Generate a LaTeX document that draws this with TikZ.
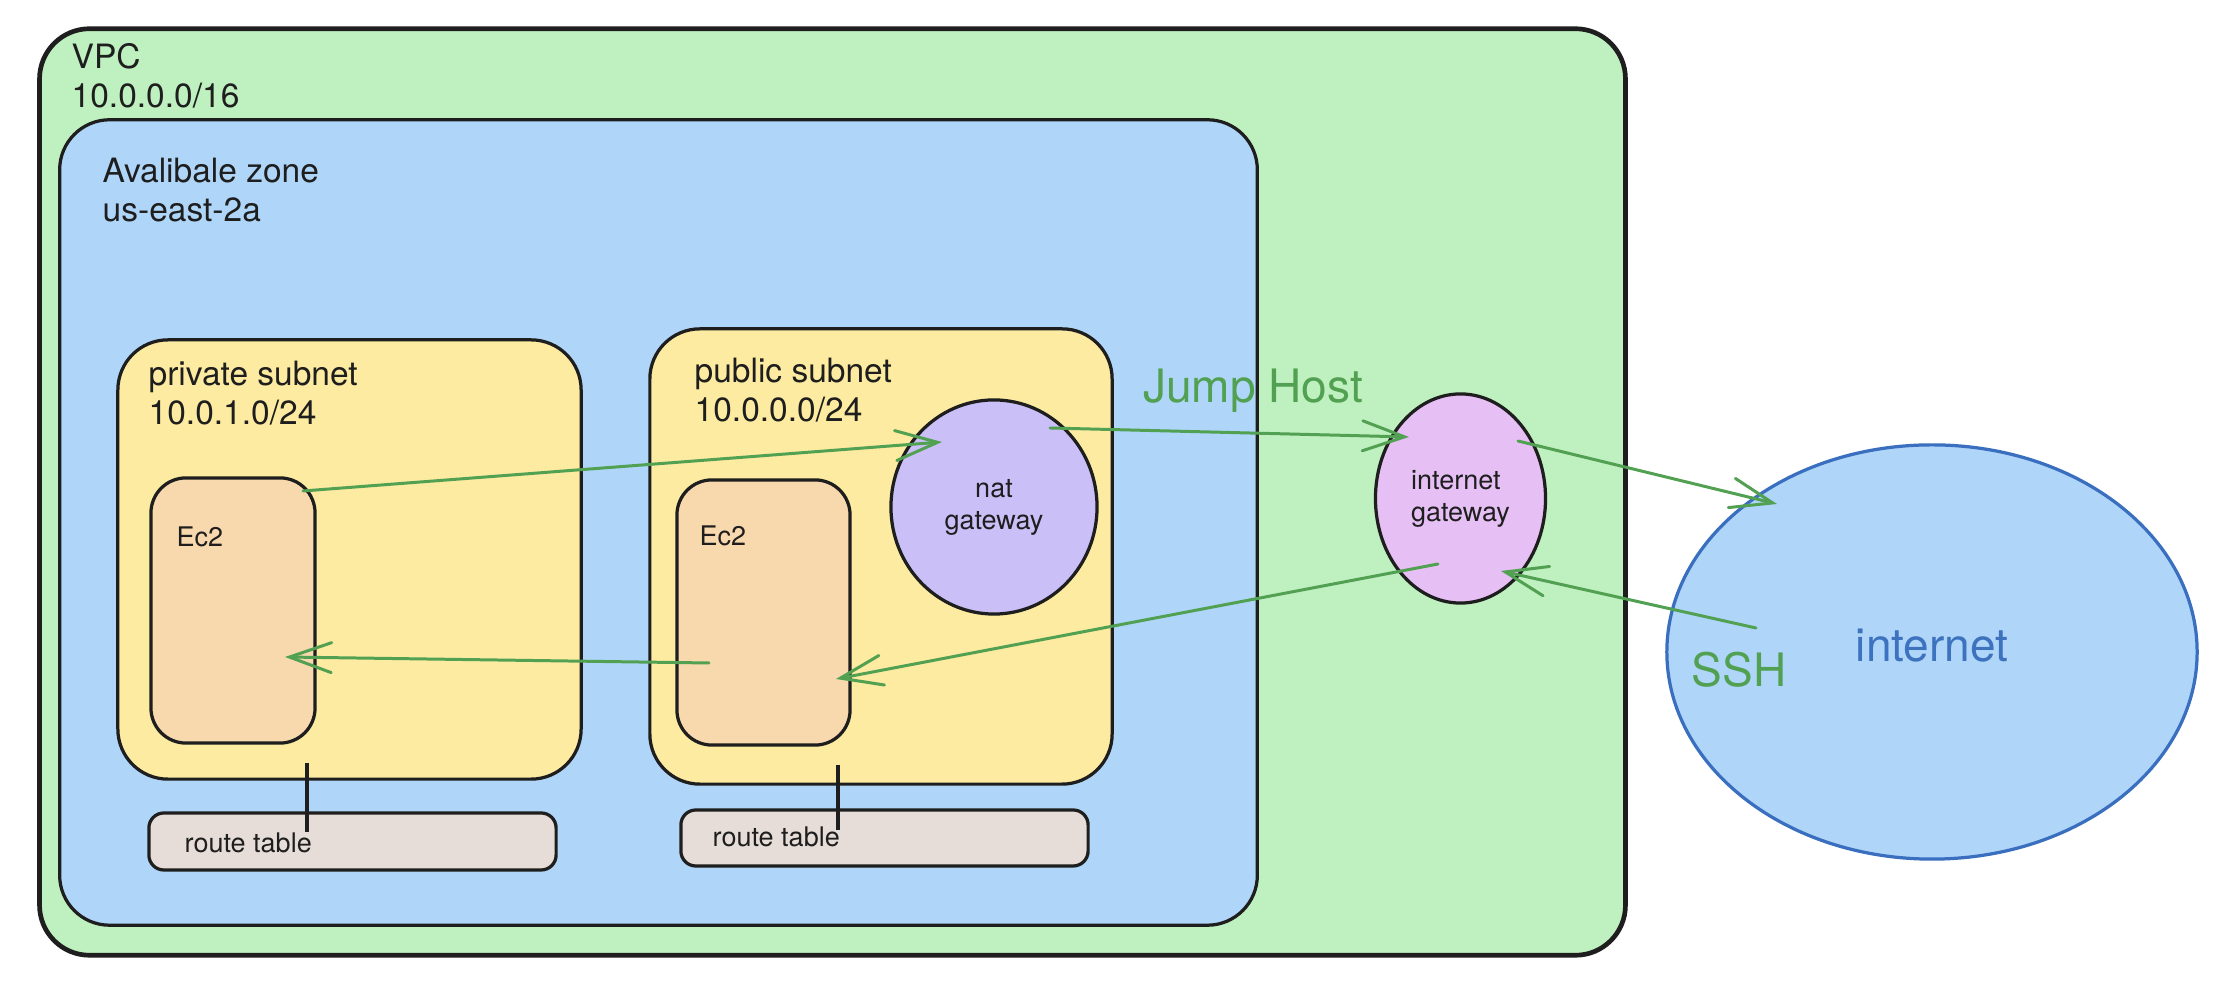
\documentclass[tikz,border=0pt]{standalone}
\usepackage{fontspec}
\setmainfont{TeX Gyre Heros}
\usetikzlibrary{arrows.meta,shapes.geometric,calc}

\definecolor{vpcgreen}{HTML}{BFF0C0}
\definecolor{zoneblue}{HTML}{AFD6F9}
\definecolor{subyellow}{HTML}{FCEBA0}
\definecolor{ecpeach}{HTML}{F8D8AD}
\definecolor{natpurple}{HTML}{CBBFF8}
\definecolor{igwpink}{HTML}{E6C0F5}
\definecolor{rtgray}{HTML}{E6DDD8}
\definecolor{inetstroke}{HTML}{3A6FBF}
\definecolor{inettext}{HTML}{3D72BE}
\definecolor{arrowgreen}{HTML}{52A052}
\definecolor{ink}{HTML}{1E1E1E}

\begin{document}
\begin{tikzpicture}[x=0.01cm,y=-0.01cm,
  box/.style={draw=ink, line width=0.92pt, rounded corners=0.5cm, inner sep=0pt},
  bigtext/.style={font=\fontsize{9.53pt}{11pt}\selectfont, text=ink, inner sep=0pt, anchor=base west},
  smalltext/.style={font=\fontsize{7.68pt}{9.1pt}\selectfont, text=ink, inner sep=0pt, anchor=base west},
  gw/.style={draw=ink, line width=0.92pt, ellipse, inner sep=0pt, text=ink, font=\fontsize{7.68pt}{9.1pt}\selectfont},
  conn/.style={draw=arrowgreen, line width=0.85pt, line cap=round, -{Straight Barb[length=0.42cm,width=0.30cm,line cap=round]}},
  rtline/.style={draw=ink, line width=0.92pt},
  greentext/.style={font=\fontsize{13.09pt}{15pt}\selectfont, text=arrowgreen, inner sep=0pt}]

\useasboundingbox[fill=white] (0,0) rectangle (2232,986);

% containers
\node[box, line width=1.33pt, fill=vpcgreen, minimum width=15.85cm, minimum height=9.26cm] (vpc) at (832.5,492) {};
\node[box, fill=zoneblue, minimum width=11.97cm, minimum height=8.05cm] (zone) at (658.5,522.5) {};
\node[box, fill=subyellow, minimum width=4.63cm, minimum height=4.39cm] (priv) at (349.5,559.5) {};
\node[box, fill=subyellow, minimum width=4.62cm, minimum height=4.55cm] (pub) at (881,556.5) {};
\node[box, rounded corners=0.35cm, fill=ecpeach, minimum width=1.64cm, minimum height=2.65cm] (ec2a) at (233,610.5) {};
\node[box, rounded corners=0.35cm, fill=ecpeach, minimum width=1.73cm, minimum height=2.65cm] (ec2b) at (763.5,612.5) {};
\node[box, rounded corners=0.15cm, fill=rtgray, minimum width=4.07cm, minimum height=0.57cm] (rta) at (352.5,841.5) {};
\node[box, rounded corners=0.15cm, fill=rtgray, minimum width=4.07cm, minimum height=0.56cm] (rtb) at (884.5,838) {};
\node[gw, fill=natpurple, minimum width=2.06cm, minimum height=2.14cm, align=center] (nat) at (994,507) {nat\\gateway};
\node[gw, fill=igwpink, minimum width=1.70cm, minimum height=2.09cm, align=left] (igw) at (1460.5,498.5) {internet\\gateway};
\node[draw=inetstroke, line width=0.92pt, ellipse, fill=zoneblue, minimum width=5.30cm, minimum height=4.14cm, inner sep=0pt] (inet) at (1932,652) {};

% labels
\node[bigtext] (vpcT1) at (71,69) {VPC};
\node[bigtext] (vpcT2) at (71,108) {10.0.0.0/16};
\node[bigtext] (zoneT1) at (102,183) {Avalibale zone};
\node[bigtext] (zoneT2) at (102,222) {us-east-2a};
\node[bigtext] (privT1) at (148,386) {private subnet};
\node[bigtext] (privT2) at (148,425) {10.0.1.0/24};
\node[bigtext] (pubT1) at (694,383) {public subnet};
\node[bigtext] (pubT2) at (694,422) {10.0.0.0/24};
\node[smalltext] (ec2aT) at (176,547) {Ec2};
\node[smalltext] (ec2bT) at (699,546) {Ec2};
\node[smalltext] (rtaT) at (184,853) {route table};
\node[smalltext] (rtbT) at (712,847) {route table};
\node[greentext, anchor=base] (jump) at (1253,403) {Jump Host};
\node[greentext, anchor=base west] (ssh) at (1691,687) {SSH};
\node[font=\fontsize{13.09pt}{15pt}\selectfont, text=inettext, inner sep=0pt, anchor=base] (inetT) at (1932,662) {internet};

% connector end points
\coordinate (c1s) at ([shift={(70,-119.5)}]ec2a.center);
\coordinate (c1e) at ([shift={(-52,-65)}]nat.center);
\coordinate (c2s) at ([shift={(56,-79)}]nat.center);
\coordinate (c2e) at ([shift={(-51.5,-61.5)}]igw.center);
\coordinate (c3s) at ([shift={(57.5,-57.5)}]igw.center);
\coordinate (c3e) at ([shift={(-155,-148)}]inet.center);
\coordinate (c4s) at ([shift={(-176,-24)}]inet.center);
\coordinate (c4e) at ([shift={(40.5,72.5)}]igw.center);
\coordinate (c5s) at ([shift={(-22.5,65.5)}]igw.center);
\coordinate (c5e) at ([shift={(72.5,66.5)}]ec2b.center);
\coordinate (c6s) at ([shift={(-54.5,50.5)}]ec2b.center);
\coordinate (c6e) at ([shift={(52,46.5)}]ec2a.center);
\coordinate (r1s) at ([shift={(-42.5,203.5)}]priv.center);
\coordinate (r1e) at ([shift={(-45.5,-9.5)}]rta.center);
\coordinate (r2s) at ([shift={(-43,208.5)}]pub.center);
\coordinate (r2e) at ([shift={(-46.5,-8)}]rtb.center);

% connectors
\draw[rtline] (r1s) -- (r1e);
\draw[rtline] (r2s) -- (r2e);
\draw[conn] (c1s) -- (c1e);
\draw[conn] (c2s) -- (c2e);
\draw[conn] (c3s) -- (c3e);
\draw[conn] (c4s) -- (c4e);
\draw[conn] (c5s) -- (c5e);
\draw[conn] (c6s) -- (c6e);
\end{tikzpicture}
\end{document}
